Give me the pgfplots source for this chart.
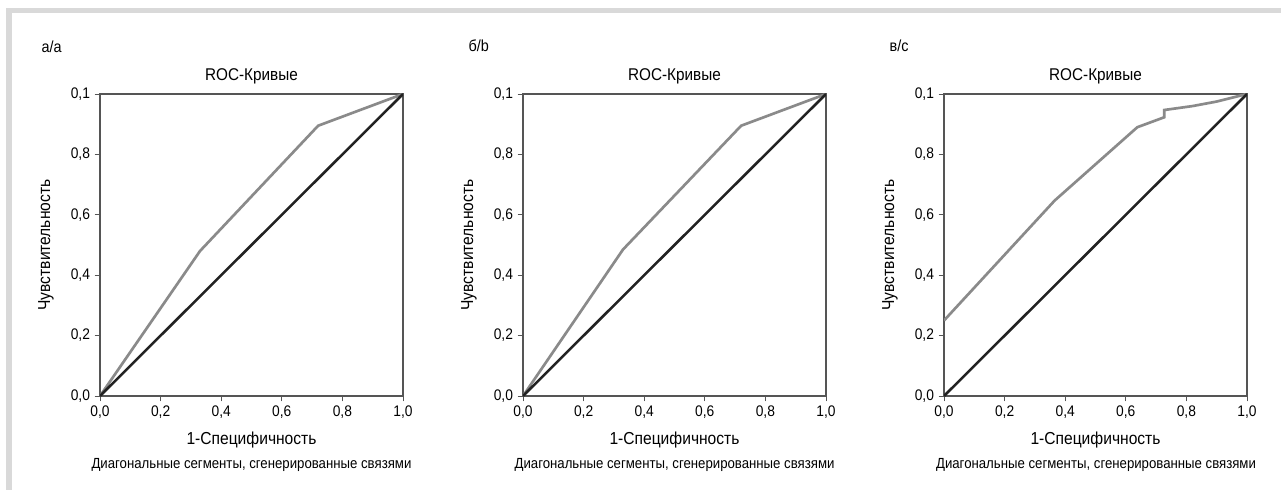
\documentclass[border=0pt]{standalone}
\usepackage{fontspec}
\setmainfont{Liberation Sans}[FakeStretch=0.9]
\usepackage{pgfplots}
\pgfplotsset{compat=1.18}

\definecolor{curve}{HTML}{8A8A8A}
\definecolor{diag}{HTML}{222222}
\definecolor{frame}{HTML}{D9D9D9}
\definecolor{axline}{HTML}{555555}

\pgfplotsset{
  rocpanel/.style={
    width=227.25pt, height=226.5pt, scale only axis,
    anchor=south west,
    xmin=0, xmax=1, ymin=0, ymax=1,
    xtick={0,0.2,0.4,0.6,0.8,1},
    ytick={0,0.2,0.4,0.6,0.8,1},
    xticklabels={{0,0},{0,2},{0,4},{0,6},{0,8},{1,0}},
    yticklabels={{0,0},{0,2},{0,4},{0,6},{0,8},{0,1}},
    tick align=outside, tickwidth=4pt,
    xtick pos=bottom, ytick pos=left,
    axis line style={axline, line width=0.8pt},
    tick style={axline, line width=0.7pt},
    tick label style={font=\fontsize{11.5}{13}\selectfont},
    title style={font=\fontsize{12.75}{14}\selectfont, yshift=-2pt},
    label style={font=\fontsize{13}{15}\selectfont},
    title={ROC-Кривые},
    xlabel={1-Специфичность},
    ylabel={Чувствительность},
    xlabel style={yshift=-3pt},
    ylabel style={yshift=6pt},
  },
  roc/.style={curve, line width=2pt},
  dia/.style={diag, line width=1.9pt},
}

\begin{document}
\begin{tikzpicture}
  \fill[white] (0pt,0pt) rectangle (960.75pt,367.5pt);
  \fill[frame] (6pt,357.75pt) rectangle (960.75pt,361.5pt);
  \fill[frame] (4.5pt,0pt) rectangle (9pt,361.5pt);

  % panel a
  \node[anchor=base west, font=\fontsize{12}{14}\selectfont] at (27.75pt,327.75pt) {а/a};
  \begin{axis}[rocpanel, at={(75pt,70.5pt)}]
    \addplot[roc] coordinates {(0,0) (0.33,0.48) (0.72,0.895) (1,1)};
    \addplot[dia] coordinates {(0,0) (1,1)};
  \end{axis}
  \node[font=\fontsize{11}{12}\selectfont] at (188.6pt,18.75pt) {Диагональные сегменты, сгенерированные связями};

  % panel b
  \node[anchor=base west, font=\fontsize{12}{14}\selectfont] at (348pt,329pt) {б/b};
  \begin{axis}[rocpanel, at={(392.25pt,70.5pt)}]
    \addplot[roc] coordinates {(0,0) (0.33,0.485) (0.72,0.895) (1,1)};
    \addplot[dia] coordinates {(0,0) (1,1)};
  \end{axis}
  \node[font=\fontsize{11}{12}\selectfont] at (505.9pt,18.75pt) {Диагональные сегменты, сгенерированные связями};

  % panel c
  \node[anchor=base west, font=\fontsize{12}{14}\selectfont] at (663.75pt,329pt) {в/с};
  \begin{axis}[rocpanel, at={(708pt,70.5pt)}]
    \addplot[roc] coordinates {(0,0.25) (0.365,0.647) (0.638,0.89) (0.727,0.923) (0.727,0.947) (0.82,0.96) (0.9,0.975) (1,1)};
    \addplot[dia] coordinates {(0,0) (1,1)};
  \end{axis}
  \node[font=\fontsize{11}{12}\selectfont] at (822pt,18.75pt) {Диагональные сегменты, сгенерированные связями};
\end{tikzpicture}
\end{document}
